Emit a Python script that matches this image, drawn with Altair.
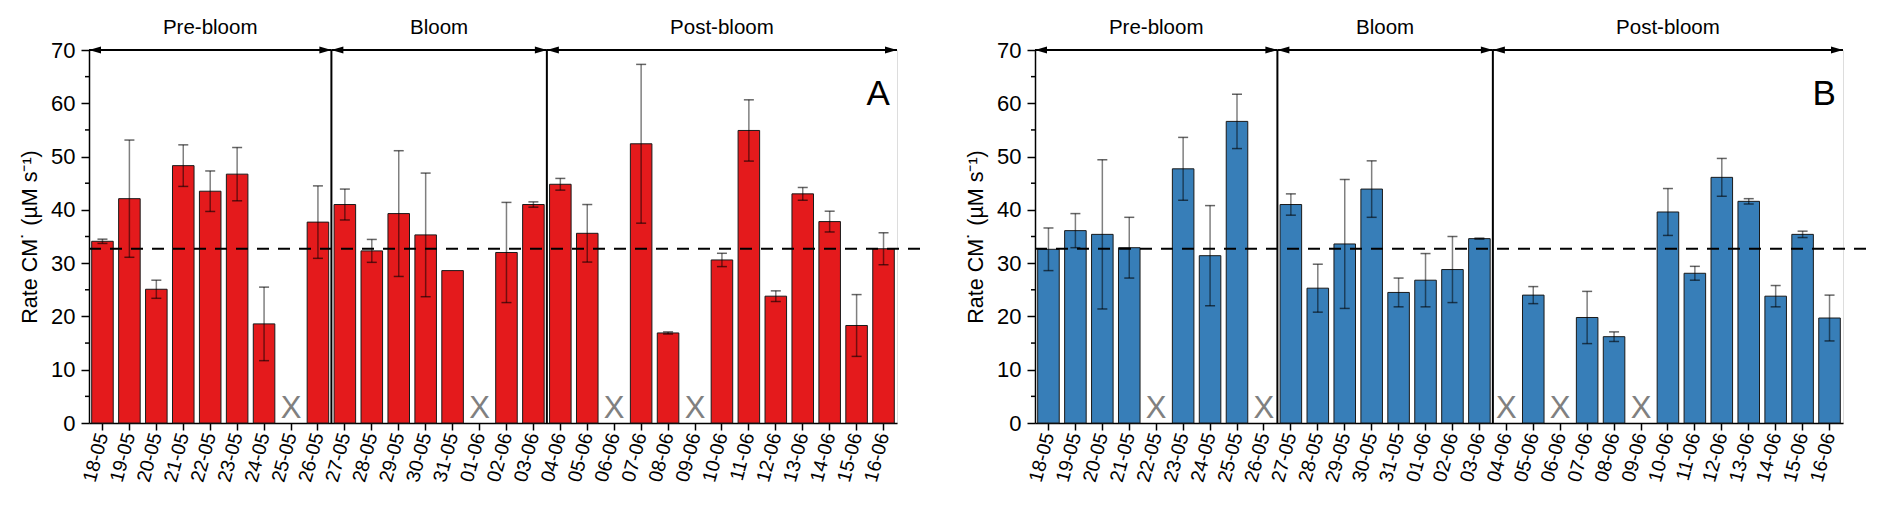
import altair as alt
import pandas as pd

dates = ["18-05", "19-05", "20-05", "21-05", "22-05", "23-05", "24-05", "25-05",
         "26-05", "27-05", "28-05", "29-05", "30-05", "31-05", "01-06", "02-06",
         "03-06", "04-06", "05-06", "06-06", "07-06", "08-06", "09-06", "10-06",
         "11-06", "12-06", "13-06", "14-06", "15-06", "16-06"]

rate_A = [34.1, 42.1, 25.1, 48.3, 43.5, 46.7, 18.6, None, 37.7, 41.0, 32.3, 39.3,
          35.3, 28.6, None, 32.0, 41.0, 44.8, 35.6, None, 52.4, 16.9, None, 30.6,
          54.9, 23.8, 43.0, 37.8, 18.3, 32.7]
err_A = [0.4, 11.0, 1.7, 3.9, 3.8, 5.0, 6.9, None, 6.8, 2.9, 2.15, 11.8,
         11.6, None, None, 9.4, 0.5, 1.1, 5.4, None, 14.9, 0.2, None, 1.25,
         5.75, 1.0, 1.2, 1.95, 5.8, 3.0]

rate_B = [32.6, 36.1, 35.4, 32.9, None, 47.7, 31.4, 56.6, None, 41.0, 25.3, 33.6,
          43.9, 24.5, 26.8, 28.8, 34.6, None, 24.0, None, 19.8, 16.2, None, 39.6,
          28.1, 46.1, 41.6, 23.8, 35.4, 19.7]
err_B = [4.0, 3.2, 14.0, 5.7, None, 5.9, 9.4, 5.1, None, 2.0, 4.5, 12.1,
         5.3, 2.7, 5.0, 6.2, 0.1, None, 1.6, None, 4.9, 0.9, None, 4.4,
         1.3, 3.55, 0.5, 2.0, 0.6, 4.3]

phases = ["Pre-bloom", "Bloom", "Post-bloom"]
phase_start = [0, 9, 17]
phase_end = [9, 17, 30]
separators = [9, 17]
threshold = 32.7
minor_ticks = [5, 15, 25, 35, 45, 55, 65]

FONT = "Liberation Sans"
W, H = 808, 373


def panel(vals, errs, color, letter):
    df = pd.DataFrame({"date": dates, "val": vals, "err": errs})
    df["lo"] = df["val"] - df["err"]
    df["hi"] = df["val"] + df["err"]
    df["zero"] = 0.0

    ph = pd.DataFrame({"name": phases, "start": phase_start, "end": phase_end})
    ph["mid"] = (ph["start"] + ph["end"]) / 2
    ph["top"] = 70.0
    sep = pd.DataFrame({"pos": separators, "bottom": 0.0, "top": 70.0})
    ref = pd.DataFrame({"x0": [0.0], "x1": [31.0], "y": [threshold]})
    lab = pd.DataFrame({"t": [letter], "x": [29.3], "y": [61.8]})
    mt = pd.DataFrame({"m": minor_ticks})

    bscale = alt.Scale(domain=dates, paddingInner=0.2, paddingOuter=0.1)
    qscale = alt.Scale(domain=[0, 30], nice=False, zero=False)
    yscale = alt.Scale(domain=[0, 70], nice=False)

    xb_axis = alt.X("date:N", scale=bscale, title=None,
                    axis=alt.Axis(labelAngle=285, labelAlign="right", labelBaseline="middle",
                                  labelFontSize=19.5, labelPadding=3, tickSize=7, tickWidth=1.5,
                                  tickColor="black", domainColor="black", domainWidth=1.5,
                                  labelColor="black", labelFont=FONT))
    xb = alt.X("date:N", scale=bscale, axis=None)

    y_axis = alt.Y("val:Q", scale=yscale,
                   axis=alt.Axis(values=[0, 10, 20, 30, 40, 50, 60, 70], grid=False,
                                 title="Rate CM\u02D9 (\u00B5M s\u207B\u00B9)",
                                 titleFontSize=21.5, titleFont=FONT, titleFontWeight="normal",
                                 titleColor="black", titlePadding=9,
                                 labelFontSize=22, labelFont=FONT, labelColor="black",
                                 labelPadding=6, tickSize=8, tickWidth=1.5, tickColor="black",
                                 domainColor="black", domainWidth=1.5))

    base = alt.Chart(df)
    bars = base.mark_bar(color=color, stroke="#1a1a1a", strokeWidth=1).encode(
        x=xb_axis, y=y_axis)

    ebase = base.transform_filter("isValid(datum.err)")
    erule = ebase.mark_rule(color="black", opacity=0.5, strokeWidth=1.5).encode(
        x=xb, y=alt.Y("lo:Q", scale=yscale), y2="hi:Q")
    cap_lo = ebase.mark_tick(color="black", opacity=0.6, size=10, thickness=1.5).encode(
        x=xb, y=alt.Y("lo:Q", scale=yscale))
    cap_hi = ebase.mark_tick(color="black", opacity=0.6, size=10, thickness=1.5).encode(
        x=xb, y=alt.Y("hi:Q", scale=yscale))

    xmark = base.transform_filter("!isValid(datum.val)").mark_text(
        text="X", font=FONT, fontSize=31, color="#808080", baseline="alphabetic", dy=-5
    ).encode(x=xb, y=alt.Y("zero:Q", scale=yscale))

    dash = alt.Chart(ref).mark_rule(color="black", strokeWidth=2, strokeDash=[12, 9]).encode(
        x=alt.X("x0:Q", scale=qscale, axis=None), x2="x1:Q", y=alt.Y("y:Q", scale=yscale))

    seps = alt.Chart(sep).mark_rule(color="black", strokeWidth=2).encode(
        x=alt.X("pos:Q", scale=qscale, axis=None), y=alt.Y("bottom:Q", scale=yscale), y2="top:Q")

    arrows = alt.Chart(ph).mark_rule(color="black", strokeWidth=2).encode(
        x=alt.X("start:Q", scale=qscale, axis=None), x2="end:Q", y=alt.Y("top:Q", scale=yscale))
    head_l = alt.Chart(ph).mark_point(shape="M0,0L2,-0.6L2,0.6Z", filled=True, color="black",
                                      size=144, opacity=1).encode(
        x=alt.X("start:Q", scale=qscale, axis=None), y=alt.Y("top:Q", scale=yscale))
    head_r = alt.Chart(ph).mark_point(shape="M0,0L-2,-0.6L-2,0.6Z", filled=True, color="black",
                                      size=144, opacity=1).encode(
        x=alt.X("end:Q", scale=qscale, axis=None), y=alt.Y("top:Q", scale=yscale))
    ph_text = alt.Chart(ph).mark_text(font=FONT, fontSize=20.5, color="black", baseline="middle",
                                      dy=-22).encode(
        x=alt.X("mid:Q", scale=qscale, axis=None), y=alt.Y("top:Q", scale=yscale), text="name:N")

    letter_text = alt.Chart(lab).mark_text(font=FONT, fontSize=35, color="black",
                                           baseline="middle").encode(
        x=alt.X("x:Q", scale=qscale, axis=None), y=alt.Y("y:Q", scale=yscale), text="t:N")

    minor = alt.Chart(mt).mark_rule(color="black", strokeWidth=1.5).encode(
        y=alt.Y("m:Q", scale=yscale), x=alt.value(-4), x2=alt.value(0))

    return alt.layer(bars, erule, cap_lo, cap_hi, xmark, dash, seps, arrows, head_l, head_r,
                     ph_text, letter_text, minor).resolve_scale(x="independent").properties(
        width=W, height=H)


pA = panel(rate_A, err_A, "#E41A1C", "A")
pB = panel(rate_B, err_B, "#377EB8", "B")

chart = alt.hconcat(pA, pB, spacing=138, bounds="flush").properties(
    padding={"left": 11, "top": 9, "right": 0, "bottom": 0}
).configure_view(stroke=None).configure(font=FONT)

chart.save("out.html", embed_options={"renderer": "svg", "actions": False})
